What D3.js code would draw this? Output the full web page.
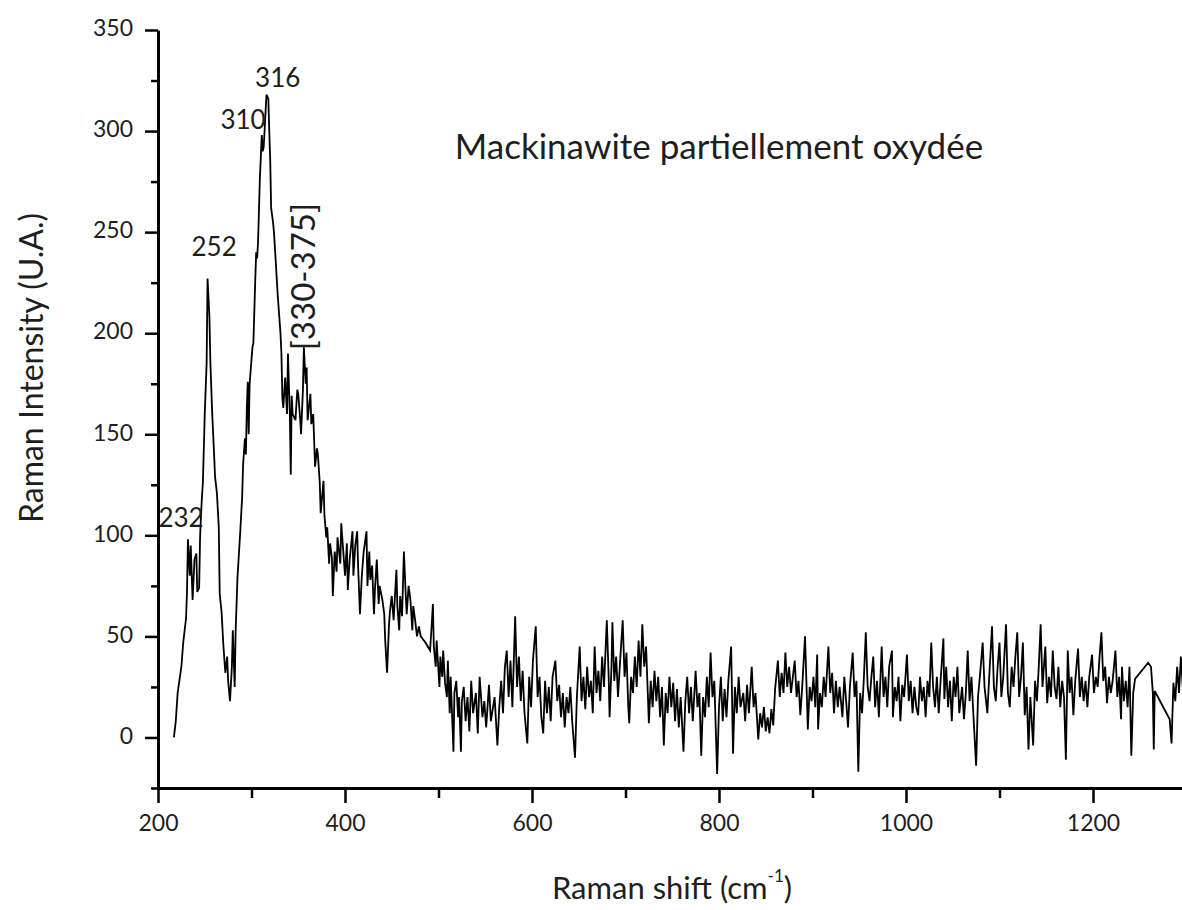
<!DOCTYPE html>
<html>
<head>
<meta charset="utf-8">
<script src="https://cdn.jsdelivr.net/npm/d3@7"></script>
<style>
  body { margin: 0; background: #fff; }
</style>
</head>
<body>
<script>
// Raman spectrum (cm-1 / arbitrary units)
const ramanShift = [
  217, 219, 221, 225, 227, 230, 231, 232, 234, 235,
  237, 239, 241, 242, 244, 245, 246, 247, 248, 250,
  252, 253, 255, 256, 258, 260, 261, 263, 265, 266,
  268, 270, 272, 274, 275, 277, 279, 280, 282, 283,
  285, 288, 290, 291, 293, 294, 295, 296, 297, 298,
  301, 302, 304, 305, 306, 307, 309, 311, 312, 313,
  314, 316, 318, 319, 320, 321, 323, 324, 326, 327,
  328, 331, 332, 333, 334, 336, 338, 339, 341, 342,
  343, 344, 347, 349, 350, 352, 353, 355, 356, 358,
  359, 360, 363, 364, 366, 368, 370, 371, 373, 374,
  377, 378, 380, 381, 383, 384, 386, 387, 389, 391,
  392, 395, 396, 398, 400, 402, 403, 405, 408, 409,
  411, 413, 414, 416, 418, 420, 423, 424, 426, 427,
  429, 431, 432, 434, 436, 437, 440, 442, 443, 445,
  447, 448, 450, 452, 455, 456, 458, 459, 461, 463,
  465, 466, 468, 470, 472, 473, 475, 477, 479, 481,
  486, 491, 493, 494, 495, 497, 498, 501, 502, 504,
  505, 507, 509, 510, 512, 513, 516, 517, 519, 521,
  522, 524, 525, 527, 529, 531, 533, 535, 537, 540,
  542, 544, 547, 549, 551, 554, 556, 558, 560, 563,
  565, 567, 569, 571, 573, 575, 577, 579, 582, 584,
  586, 588, 590, 592, 595, 597, 599, 601, 604, 606,
  608, 610, 612, 614, 616, 618, 620, 622, 625, 627,
  629, 631, 633, 635, 637, 639, 641, 643, 646, 648,
  651, 653, 655, 657, 659, 661, 663, 665, 667, 669,
  671, 673, 675, 677, 680, 682, 683, 685, 686, 688,
  690, 692, 694, 697, 699, 701, 703, 704, 706, 708,
  710, 712, 714, 716, 718, 720, 722, 724, 725, 727,
  729, 731, 733, 735, 737, 739, 741, 743, 745, 747,
  749, 751, 753, 755, 757, 759, 762, 764, 766, 768,
  770, 772, 775, 777, 779, 781, 783, 785, 787, 789,
  791, 793, 795, 798, 800, 802, 804, 806, 808, 810,
  813, 815, 817, 819, 821, 823, 826, 828, 830, 832,
  835, 837, 839, 842, 844, 846, 848, 850, 852, 854,
  856, 858, 860, 863, 865, 867, 869, 871, 873, 875,
  877, 879, 881, 883, 885, 887, 889, 892, 894, 895,
  897, 899, 901, 903, 905, 906, 908, 910, 912, 914,
  917, 919, 921, 923, 925, 927, 929, 932, 934, 936,
  938, 940, 943, 945, 947, 949, 951, 953, 955, 957,
  959, 961, 963, 965, 967, 969, 971, 974, 976, 978,
  980, 982, 985, 986, 988, 990, 992, 994, 996, 998,
  1001, 1003, 1005, 1007, 1009, 1011, 1013, 1015, 1017, 1019,
  1021, 1023, 1025, 1027, 1029, 1031, 1033, 1035, 1037, 1040,
  1041, 1043, 1045, 1047, 1049, 1051, 1053, 1055, 1057, 1060,
  1062, 1064, 1066, 1068, 1070, 1072, 1075, 1077, 1079, 1082,
  1084, 1087, 1089, 1092, 1094, 1096, 1098, 1100, 1102, 1104,
  1107, 1109, 1111, 1113, 1115, 1117, 1119, 1121, 1123, 1125,
  1127, 1129, 1131, 1133, 1136, 1138, 1140, 1142, 1144, 1146,
  1149, 1151, 1153, 1155, 1157, 1159, 1161, 1163, 1165, 1167,
  1169, 1171, 1173, 1175, 1177, 1179, 1181, 1184, 1186, 1188,
  1190, 1192, 1194, 1196, 1199, 1201, 1203, 1205, 1207, 1209,
  1211, 1213, 1215, 1217, 1219, 1221, 1224, 1226, 1228, 1230,
  1231, 1233, 1235, 1237, 1239, 1241, 1243, 1245, 1259, 1262,
  1264, 1265, 1266, 1282, 1284, 1286, 1288, 1290, 1292, 1294,
  1296, 1298, 1300
];

const intensity = [
  0, 8, 22, 35, 47, 59, 72, 98, 80, 95,
  68, 88, 91, 72, 74, 99, 110, 119, 126, 160,
  185, 227, 208, 186, 160, 140, 129, 121, 104, 71,
  62, 45, 32, 40, 28, 18, 35, 53, 25, 52,
  79, 102, 119, 135, 148, 140, 163, 176, 150, 175,
  193, 195, 226, 240, 237, 245, 277, 298, 290, 292,
  300, 318, 316, 300, 286, 262, 255, 250, 235, 227,
  219, 200, 190, 168, 163, 178, 160, 190, 160, 130,
  169, 160, 157, 172, 170, 158, 150, 172, 193, 175,
  183, 157, 170, 155, 160, 134, 143, 140, 126, 111,
  127, 110, 99, 104, 86, 96, 89, 70, 92, 82,
  99, 86, 106, 93, 80, 96, 73, 88, 102, 80,
  95, 102, 85, 61, 80, 92, 102, 75, 92, 78,
  85, 61, 73, 88, 66, 75, 68, 61, 48, 32,
  55, 62, 70, 58, 83, 65, 53, 70, 60, 92,
  70, 61, 75, 68, 53, 65, 58, 50, 55, 50,
  47, 43, 58, 66, 45, 35, 48, 25, 40, 30,
  43, 27, 20, 38, 12, 30, -7, 22, 28, 10,
  20, -7, 18, 25, 8, 20, 3, 28, 12, 22,
  2, 30, 10, 18, 5, 26, 8, 14, 20, -4,
  15, 28, 12, 35, 43, 20, 38, 15, 60, 25,
  40, 18, 33, 12, -3, 30, 15, 38, 55, 20,
  30, 10, 2, 28, 12, 25, 8, 30, 38, 18,
  26, 10, 22, 5, 20, 12, 25, 8, -10, 20,
  45, 18, 30, 14, 35, 20, 28, 12, 45, 22,
  33, 18, 40, 25, 58, 30, 10, 35, 57, 28,
  40, 20, 36, 58, 30, 42, 15, 7, 30, 22,
  40, 25, 48, 30, 56, 35, 45, 20, 7, 28,
  15, 33, 18, 30, 10, 25, -4, 22, 12, 30,
  15, 27, 8, 24, 5, 20, -7, 18, 30, 12,
  25, 8, 33, 15, 22, -9, 20, 10, 30, 15,
  42, 20, 28, -18, 15, 30, 8, 24, 10, 28,
  45, -8, 25, 12, 30, 15, 22, 8, 26, 12,
  35, 15, 22, -1, 12, 5, 15, 3, 10, 2,
  14, 6, 24, 38, 20, 32, 22, 42, 25, 35,
  22, 30, 38, 20, 28, 11, 25, 50, 20, 4,
  25, 18, 30, 15, 41, 4, 22, 15, 30, 20,
  45, 22, 32, 12, 28, 15, 25, 10, 30, 18,
  5, 25, 42, 20, 28, -17, 22, 12, 30, 52,
  25, 18, 30, 40, 15, 28, 10, 45, 20, 30,
  15, 35, 43, 10, 25, 18, 30, 8, 26, 20,
  41, 18, 28, 12, 25, 15, 11, 30, 18, 25,
  10, 28, 20, 47, 25, 15, 30, 12, 28, 49,
  19, 35, 15, 28, 8, 30, 20, 35, 12, 25,
  9, 22, 43, 18, 30, 12, -14, 20, 30, 47,
  25, 12, 30, 55, 25, 18, 35, 47, 20, 30,
  56, 22, 15, 35, 25, 40, 52, 20, 30, 47,
  11, 25, -6, 20, -4, 28, 18, 35, 56, 25,
  45, 17, 30, 20, 43, 25, 19, 35, 15, 28,
  20, -11, 43, 22, 30, 11, 28, 44, 20, 30,
  18, 28, 15, 30, 41, 22, 30, 25, 40, 52,
  28, 35, 17, 30, 22, 28, 43, 20, 30, 9,
  35, 18, 28, 15, 35, -9, 22, 29, 37, 35,
  22, -6, 23, 9, -3, 27, 18, 35, 22, 40,
  25, 30, 23
];

const xTickValues = [200, 400, 600, 800, 1000, 1200];
const xMinorTicks = [300, 500, 700, 900, 1100];
const yTickValues = [0, 50, 100, 150, 200, 250, 300, 350];
const yMinorTicks = [-25, 25, 75, 125, 175, 225, 275, 325];

// peak annotations: label, anchor shift, anchor intensity
const peakLabels = ["232", "252", "310", "316"];
const peakShift = [224.6, 260, 291, 328];
const peakValue = [104, 238, 301, 322];

const fontFamily = "Lato, 'Open Sans', sans-serif";
const textColor = "#1e1e1e";

let svg = d3.select("body").append("svg")
  .attr("width", 1182)
  .attr("height", 910)
  .style("background-color", "#ffffff");

const x = d3.scaleLinear().domain([200, 1300]).range([158, 1186.5]);
const y = d3.scaleLinear().domain([-25, 350]).range([788, 30]);

// y axis
const yAxis = svg.append("g")
  .attr("transform", "translate(158,0)")
  .call(d3.axisLeft(y).tickValues(yTickValues).tickSize(13).tickSizeOuter(0).tickPadding(12));

svg.append("g")
  .attr("transform", "translate(158,0)")
  .call(d3.axisLeft(y).tickValues(yMinorTicks).tickSize(7).tickFormat(""))
  .call(g => g.select(".domain").remove());

// x axis
const xAxis = svg.append("g")
  .attr("transform", "translate(0,788)")
  .call(d3.axisBottom(x).tickValues(xTickValues).tickFormat(d3.format("d"))
    .tickSize(15).tickSizeOuter(0).tickPadding(12));

svg.append("g")
  .attr("transform", "translate(0,788)")
  .call(d3.axisBottom(x).tickValues(xMinorTicks).tickSize(10).tickFormat(""))
  .call(g => g.select(".domain").remove());

svg.selectAll(".domain")
  .attr("stroke", "#000")
  .attr("stroke-width", 3);

svg.selectAll(".tick line")
  .attr("stroke", "#000")
  .attr("stroke-width", 2.5);

svg.selectAll(".tick text")
  .attr("font-family", fontFamily)
  .attr("font-size", "23px")
  .attr("fill", textColor);

yAxis.selectAll(".tick text").attr("dy", "0.25em");

// spectrum
const points = ramanShift.map((s, i) => [s, intensity[i]]);

svg.append("path")
  .datum(points)
  .attr("fill", "none")
  .attr("stroke", "#000")
  .attr("stroke-width", 1.8)
  .attr("stroke-linejoin", "miter")
  .attr("d", d3.line().x(d => x(d[0])).y(d => y(d[1])));

// peak labels
svg.selectAll(".peak")
  .data(peakLabels)
  .enter()
    .append("text")
    .attr("class", "peak")
    .attr("x", (d, i) => x(peakShift[i]))
    .attr("y", (d, i) => y(peakValue[i]))
    .attr("text-anchor", "middle")
    .attr("font-family", fontFamily)
    .attr("font-size", "26px")
    .attr("fill", textColor)
    .text(d => d);

svg.append("text")
  .attr("transform", `translate(${x(356)},${y(228)}) rotate(-90)`)
  .attr("text-anchor", "middle")
  .attr("dy", "0.35em")
  .attr("font-family", fontFamily)
  .attr("font-size", "33px")
  .attr("fill", textColor)
  .text("[330-375]");

// title
svg.append("text")
  .attr("x", 719)
  .attr("y", 159)
  .attr("text-anchor", "middle")
  .attr("font-family", fontFamily)
  .attr("font-size", "35px")
  .attr("fill", textColor)
  .text("Mackinawite partiellement oxydée");

// axis titles
svg.append("text")
  .attr("transform", "translate(43,368) rotate(-90)")
  .attr("text-anchor", "middle")
  .attr("font-family", fontFamily)
  .attr("font-size", "32px")
  .attr("fill", textColor)
  .text("Raman Intensity (U.A.)");

const xTitle = svg.append("text")
  .attr("x", 672)
  .attr("y", 899)
  .attr("text-anchor", "middle")
  .attr("font-family", fontFamily)
  .attr("font-size", "31px")
  .attr("fill", textColor);

xTitle.append("tspan").text("Raman shift (cm");
xTitle.append("tspan").attr("font-size", "17px").attr("dy", -17).text("-1");
xTitle.append("tspan").attr("dy", 17).text(")");
</script>
</body>
</html>
